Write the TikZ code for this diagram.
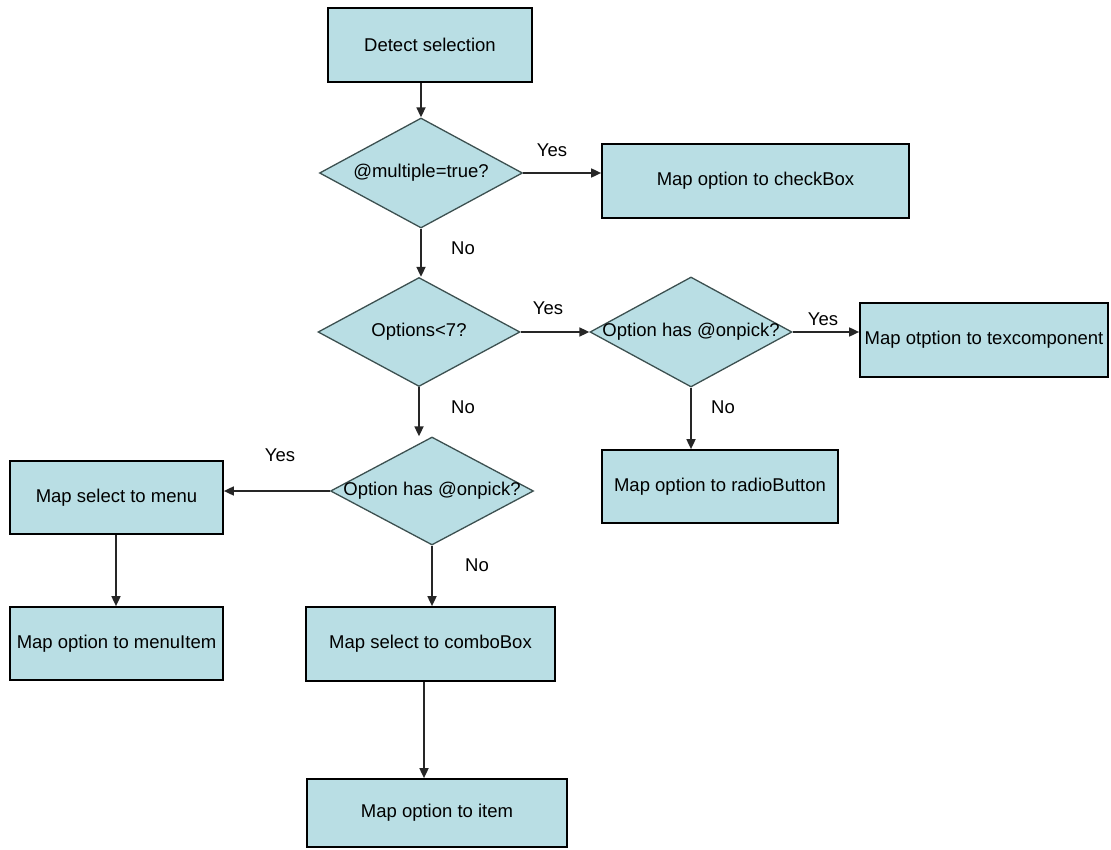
\documentclass[tikz,border=0pt]{standalone}
\usepackage{fontspec}
\setmainfont{Liberation Sans}
\usetikzlibrary{shapes.geometric,arrows.meta}
\definecolor{boxfill}{RGB}{185,222,228}
\definecolor{diaedge}{RGB}{60,80,80}
\begin{document}
\begin{tikzpicture}[x=1pt,y=-1pt,
  every node/.style={font=\fontsize{18.5}{21}\selectfont},
  procbox/.style={draw=black, line width=1.7pt, fill=boxfill, inner sep=0pt},
  decision/.style={diamond, draw=diaedge, line width=1.3pt, fill=boxfill, inner sep=0pt},
  flow/.style={draw=black!85, line width=1.7pt, -{Triangle[length=10pt,width=9pt]}},
  lbl/.style={inner sep=0pt}]
\useasboundingbox (0,0) rectangle (1111,850);

% process boxes
\node[procbox, minimum width=204pt, minimum height=74pt] (detect) at (430,45) {Detect selection};
\node[procbox, minimum width=307pt, minimum height=74pt] (cb) at (755.5,181) {Map option to checkBox};
\node[procbox, minimum width=248pt, minimum height=74pt] (tex) at (984,340) {Map otption to texcomponent};
\node[procbox, minimum width=236pt, minimum height=73pt] (radio) at (720,486.5) {Map option to radioButton};
\node[procbox, minimum width=213pt, minimum height=73pt] (menu) at (116.5,497.5) {Map select to menu};
\node[procbox, minimum width=213pt, minimum height=73pt] (menuitem) at (116.5,643.5) {Map option to menuItem};
\node[procbox, minimum width=249pt, minimum height=74pt] (combo) at (430.5,644) {Map select to comboBox};
\node[procbox, minimum width=260pt, minimum height=68pt] (item) at (437,813) {Map option to item};

% decisions
\node[decision, minimum width=203pt, minimum height=110pt] (d1) at (421,173) {\makebox[0pt]{@multiple=true?}};
\node[decision, minimum width=202pt, minimum height=109pt] (d2) at (419,332) {\makebox[0pt]{Options<7?}};
\node[decision, minimum width=202pt, minimum height=110pt] (d3) at (691,332) {\makebox[0pt]{Option has @onpick?}};
\node[decision, minimum width=203pt, minimum height=108pt] (d4) at (432,491) {\makebox[0pt]{Option has @onpick?}};

% connectors
\draw[flow] (d1.north |- detect.south) -- (d1.north);
\draw[flow] (d1.east) -- (d1.east -| cb.west);
\draw[flow] (d1.south) -- (d1.south |- d2.north);
\draw[flow] (d2.east) -- (d3.west);
\draw[flow] (d3.east) -- (d3.east -| tex.west);
\draw[flow] (d3.south) -- (d3.south |- radio.north);
\draw[flow] (d2.south) -- (d2.south |- d4.north);
\draw[flow] (d4.west) -- (d4.west -| menu.east);
\draw[flow] ([xshift=-0.5pt]menu.south) -- ([xshift=-0.5pt]menuitem.north);
\draw[flow] (d4.south) -- (d4.south |- combo.north);
\draw[flow] ([xshift=-6.5pt]combo.south) -- ([xshift=-6.5pt]combo.south |- item.north);

% branch labels
\node[lbl] (y1) at (552,150) {Yes};
\node[lbl] (n1) at (463,248) {No};
\node[lbl] (y2) at (548,308) {Yes};
\node[lbl] (y3) at (823,319) {Yes};
\node[lbl] (n2) at (463,407) {No};
\node[lbl] (n3) at (723,407) {No};
\node[lbl] (y4) at (280,455) {Yes};
\node[lbl] (n4) at (477,565) {No};
\end{tikzpicture}
\end{document}
